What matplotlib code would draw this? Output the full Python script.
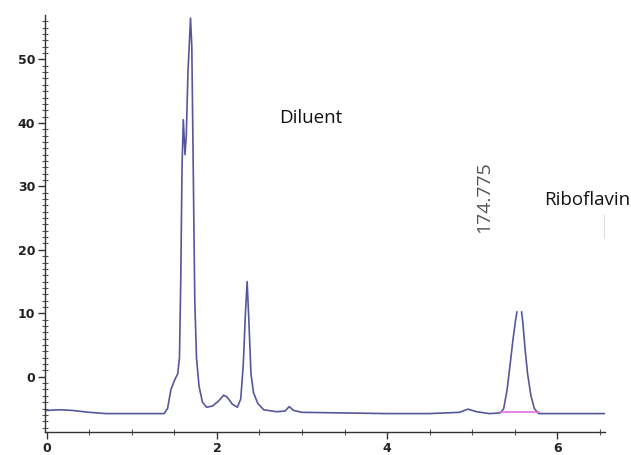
import numpy as np
import matplotlib
matplotlib.use("Agg")
import matplotlib.pyplot as plt

# retention time (min) and signal
time = [0.0, 0.15, 0.3, 0.5, 0.7, 1.0, 1.38, 1.42, 1.46, 1.5, 1.54, 1.56, 1.575, 1.59,
        1.605, 1.625, 1.64, 1.66, 1.69, 1.705, 1.72, 1.74, 1.76, 1.79, 1.83, 1.88, 1.95,
        2.02, 2.08, 2.12, 2.18, 2.24, 2.28, 2.31, 2.335, 2.355, 2.375, 2.4, 2.43, 2.48,
        2.55, 2.7, 2.8, 2.85, 2.9, 3.0, 3.5, 4.0, 4.5, 4.85, 4.95, 5.05, 5.2, 5.33,
        5.37, 5.41, 5.45, 5.48, 5.51, 5.525, 5.535, 5.58, 5.595, 5.62, 5.65, 5.69, 5.73,
        5.78, 5.85, 6.2, 6.56]
signal = [-5.3, -5.2, -5.3, -5.6, -5.8, -5.8, -5.8, -5.0, -2.0, -0.6, 0.5, 3.0, 15.0, 33.0,
          40.5, 35.0, 38.0, 48.0, 56.5, 52.0, 35.0, 12.0, 3.0, -1.5, -4.0, -4.8, -4.6,
          -3.8, -2.9, -3.2, -4.3, -4.8, -3.5, 2.0, 10.0, 15.0, 9.0, 0.5, -2.5, -4.2,
          -5.2, -5.5, -5.4, -4.7, -5.3, -5.6, -5.7, -5.8, -5.8, -5.6, -5.1, -5.5, -5.8, -5.7,
          -5.0, -2.0, 2.5, 6.0, 9.0, 10.2, np.nan, 10.2, 8.5, 4.5, 0.5, -3.0, -5.0,
          -5.8, -5.8, -5.8, -5.8]
integration_start = 5.33
integration_end = 5.79
baseline_level = -5.6

fig = plt.figure(figsize=(6.31, 4.55), dpi=100)
ax = fig.add_axes([45/631, 23/455, 560/631, 417/455])

ax.plot(time, signal, color="#56569c", lw=1.2)
ax.plot([integration_start, integration_end], [baseline_level, baseline_level],
        color="#e070e0", lw=1.2)
# faint mark under the Riboflavin label
ax.plot([6.55, 6.55], [21.9, 25.5], color="#dddddd", lw=0.8, clip_on=False)

ax.set_xlim(-0.02, 6.56)
ax.set_ylim(-8.7, 57.0)
ax.set_xticks([0, 2, 4, 6])
ax.set_xticks(np.arange(0, 6.6, 0.5), minor=True)
ax.set_yticks([0, 10, 20, 30, 40, 50])
ax.set_yticks(np.arange(-8, 57, 1), minor=True)
for s in ["top", "right"]:
    ax.spines[s].set_visible(False)
for s in ["left", "bottom"]:
    ax.spines[s].set_color("#333333")
    ax.spines[s].set_linewidth(1.0)
ax.tick_params(axis="both", which="major", direction="out", length=5, width=1,
               color="#333333", labelsize=9, pad=2)
ax.tick_params(axis="both", which="minor", direction="inout", length=4, width=0.8,
               color="#555555")
for lab in ax.get_xticklabels() + ax.get_yticklabels():
    lab.set_fontweight("bold")
    lab.set_color("#222222")

ax.text(3.1, 40.8, "Diluent", fontsize=13.5, family="Open Sans", ha="center", va="center",
        color="#111111")
ax.text(6.35, 27.9, "Riboflavin", fontsize=13.5, family="Open Sans", ha="center",
        va="center", color="#111111", clip_on=False)
ax.text(5.135, 28.3, "174.775", fontsize=14, family="Open Sans", rotation=90,
        ha="center", va="center", color="#555555")

fig.savefig("out.png", dpi=100, facecolor="white")
